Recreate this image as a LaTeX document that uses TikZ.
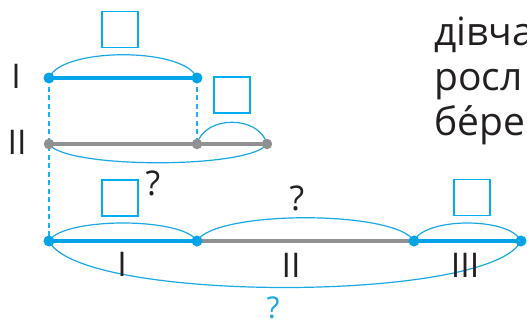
\documentclass[tikz,border=0pt]{standalone}
\usepackage{fontspec}
\setmainfont{Open Sans}
\definecolor{segblue}{HTML}{00A3E6}
\definecolor{arcblue}{HTML}{1AA7E3}
\definecolor{dashblue}{HTML}{1EB0EC}
\definecolor{sqblue}{HTML}{00AEEF}
\definecolor{seggray}{HTML}{909193}
\definecolor{txt}{HTML}{231F20}
\tikzset{
  bdot/.style={circle,fill=segblue,inner sep=0pt,minimum size=11pt},
  gdot/.style={circle,fill=seggray,inner sep=0pt,minimum size=10.5pt},
  bseg/.style={draw=segblue,line width=3.2pt},
  gseg/.style={draw=seggray,line width=3.2pt},
  arcline/.style={draw=arcblue,line width=1.2pt},
  dashline/.style={draw=dashblue,line width=1.3pt,dash pattern=on 5pt off 3.5pt},
  sq/.style={draw=sqblue,line width=1.5pt,minimum size=36pt,inner sep=0pt},
  lbl/.style={text=txt,inner sep=0pt,anchor=base,font=\fontsize{34}{40}\selectfont},
  qm/.style={text=txt,inner sep=0pt,anchor=base,font=\fontsize{34}{40}\selectfont},
  word/.style={text=txt,inner sep=0pt,anchor=base west,font=\fontsize{39}{45}\selectfont}
}
\begin{document}
\begin{tikzpicture}[x=1pt,y=-1pt]
\useasboundingbox (0,0) rectangle (527,324);
\clip (0,0) rectangle (527,324);
% points
\coordinate (a1) at (49,78);
\coordinate (a2) at (197,78);
\coordinate (b1) at (49,144);
\coordinate (b2) at (197,144);
\coordinate (b3) at (267,144);
\coordinate (c1) at (49,241);
\coordinate (c2) at (197,241);
\coordinate (c3) at (414,241);
\coordinate (c4) at (521,241);
% dashed guides
\draw[dashline] (a1) -- (c1);
\draw[dashline] (a2) -- (b2);
% segments
\draw[bseg] (a1) -- (a2);
\draw[gseg] (b1) -- (b3);
\draw[bseg] (c1) -- (c2);
\draw[gseg] (c2) -- (c3);
\draw[bseg] (c3) -- (c4);
% arcs
\draw[arcline] (a1) .. controls +(12,-31) and +(-12,-31) .. (a2);
\draw[arcline] (b2) .. controls +(8,-29) and +(-8,-29) .. (b3);
\draw[arcline] (b1) .. controls +(16,25) and +(-16,25) .. (b3);
\draw[arcline] (c1) .. controls +(14,-24) and +(-14,-24) .. (c2);
\draw[arcline] (c2) .. controls +(18,-31) and +(-18,-31) .. (c3);
\draw[arcline] (c3) .. controls +(11,-24) and +(-11,-24) .. (c4);
\draw[arcline] (c1) .. controls +(30,62) and +(-30,62) .. (c4);
% dots
\node[bdot] (da1) at (a1) {};
\node[bdot] (da2) at (a2) {};
\node[gdot] (db1) at (b1) {};
\node[gdot] (db2) at (b2) {};
\node[gdot] (db3) at (b3) {};
\node[bdot] (dc1) at (c1) {};
\node[bdot] (dc2) at (c2) {};
\node[bdot] (dc3) at (c3) {};
\node[bdot] (dc4) at (c4) {};
% squares
\node[sq] (s1) at (120,29.5) {};
\node[sq] (s2) at (232,95) {};
\node[sq] (s3) at (120,198) {};
\node[sq] (s4) at (472,197.5) {};
% labels
\node[lbl] (l1) at (16,88) {I};
\node[lbl] (l2) at (17,154) {II};
\node[lbl] (m1) at (122,276) {I};
\node[lbl] (m2) at (291,277) {II};
\node[lbl] (m3) at (465,277) {III};
\node[qm] (q1) at (153,195) {?};
\node[qm] (q2) at (297,210) {?};
\node[qm,text=arcblue,font=\fontsize{30}{34}\selectfont] (q3) at (273,318) {?};
% words
\node[word] (w1) at (434,45) {дівча};
\node[word] (w2) at (434,90) {росл};
\node[word] (w3) at (434,135) {бе́ре};
\end{tikzpicture}
\end{document}
